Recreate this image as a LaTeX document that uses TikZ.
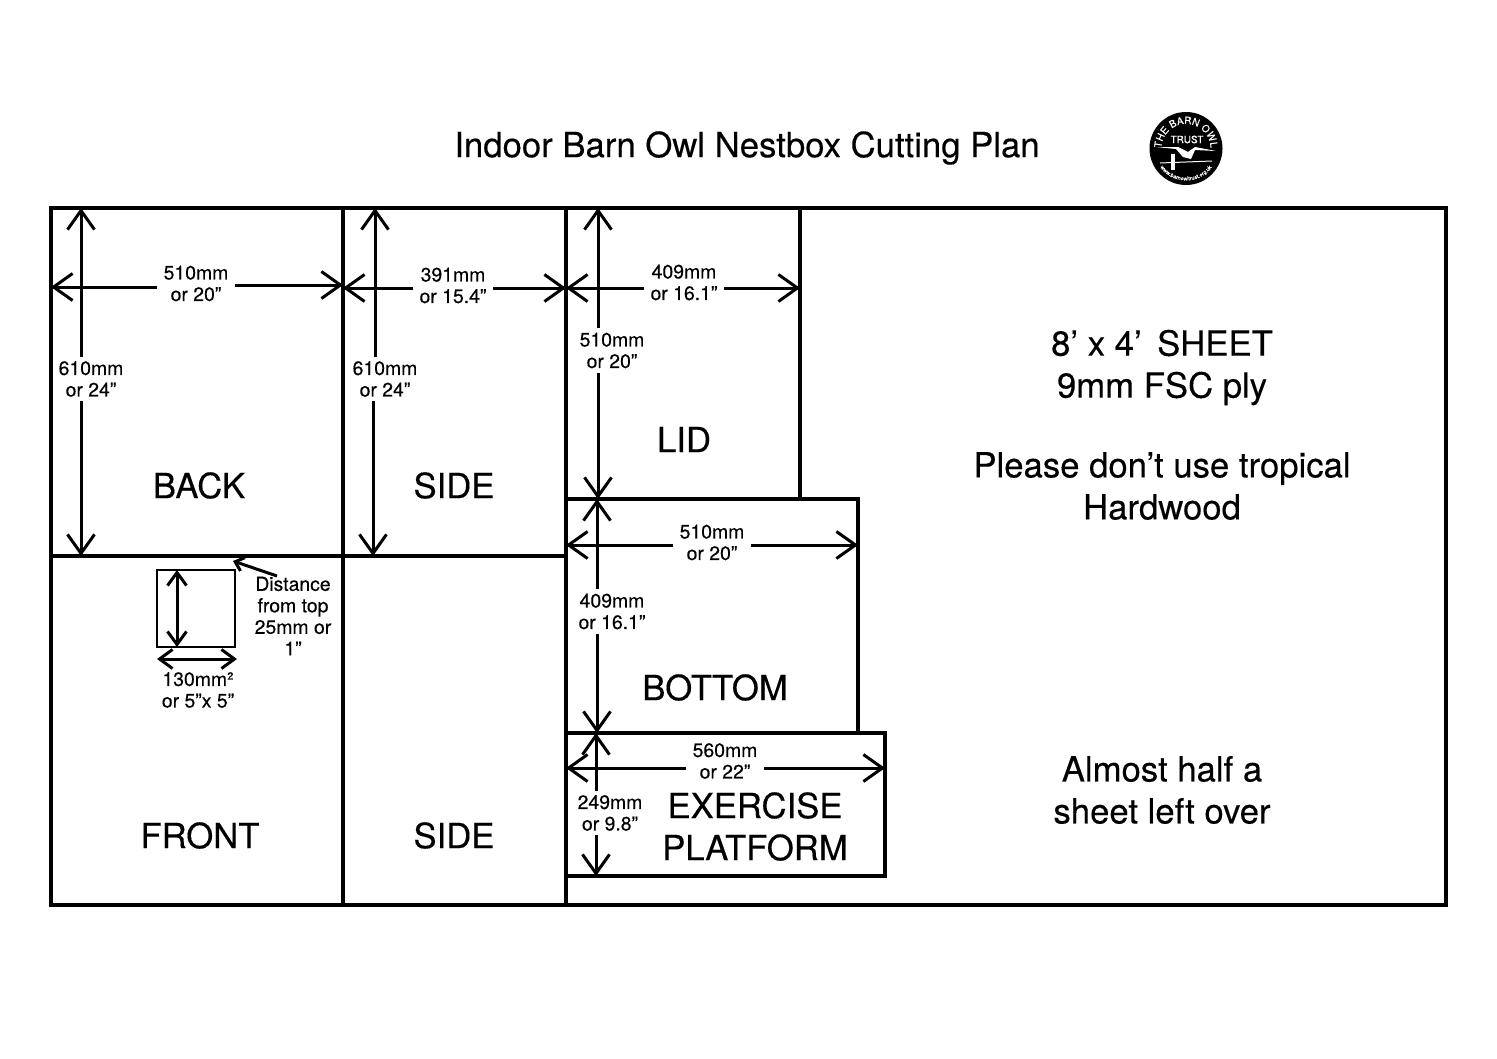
\documentclass[tikz,border=0pt]{standalone}
\usepackage{fontspec}
\setmainfont{TeX Gyre Heros}[FakeBold=0.3]
\usetikzlibrary{arrows.meta, positioning, decorations.text}
\tikzstyle{plan}=[x=1pt, y=-1pt, >={Straight Barb[length=19pt,width=27pt]}, line width=3pt]
\tikzstyle{panel}=[draw, line width=3.8pt, inner sep=0pt, outer sep=0pt]
\tikzstyle{dim}=[align=center, font=\fontsize{19.4}{21.5}\selectfont, inner xsep=5pt, inner ysep=3pt]
\tikzstyle{big}=[align=center, font=\fontsize{34.7}{42}\selectfont, inner sep=0pt]
\tikzstyle{smalltip}=[>={Straight Barb[length=13pt,width=19pt]}]

\begin{document}
\begin{tikzpicture}[plan]
  \useasboundingbox (0,0) rectangle (1497,1058);
  \node[big] (title) at (747,148) {Indoor Barn Owl Nestbox Cutting Plan};

  % the sheet and what is cut from it
  \node[panel,anchor=north west,minimum width=1395pt,minimum height=697pt] (sheet) at (51,208) {};
  \node[panel,anchor=north west,minimum width=292pt,minimum height=348pt] (back) at (51,208) {};
  \node[panel,minimum width=223pt,minimum height=348pt] (side) [right=0pt of back] {};
  \node[panel,minimum width=292pt,minimum height=349pt] (front) [below=0pt of back] {};
  \node[panel,minimum width=223pt,minimum height=349pt] (sidetwo) [below=0pt of side] {};
  \node[panel,minimum width=234pt,minimum height=291pt] (lid) [below right=0pt and 0pt of side.north east] {};
  \node[panel,minimum width=292pt,minimum height=234pt] (bottom) [below right=0pt and 0pt of lid.south west] {};
  \node[panel,minimum width=319pt,minimum height=143pt] (platform) [below right=0pt and 0pt of bottom.south west] {};
  \node[panel,line width=2.8pt,anchor=north west,minimum width=78pt,minimum height=77pt] (hole) at (157,570) {};

  \node[big] (backname) at (199,485.5) {BACK};
  \node[big] (sidename) at (454,485.5) {SIDE};
  \node[big] (frontname) at (200,835.5) {FRONT};
  \node[big] (sidetwoname) at (454,835.5) {SIDE};
  \node[big] (lidname) at (684,439.5) {LID};
  \node[big] (bottomname) at (715,687.5) {BOTTOM};
  \node[big] (platformname) at (755,826.5) {EXERCISE\\PLATFORM};
  \node[big] (sheetname) at (1162,367.5) {8' x 4'\, SHEET\\9mm FSC ply};
  \node[big] (tropical) at (1162,486) {Please don't use tropical\\Hardwood};
  \node[big] (leftover) at (1162,790) {Almost half a\\sheet left over};

  % sizes
  \node[dim] (backw) at (196,283.5) {510mm\\or 20"};
  \node[dim] (backh) at (91,379) {610mm\\or 24"};
  \node[dim] (sidew) at (453,285.5) {391mm\\or 15.4"};
  \node[dim] (sideh) at (385,379) {610mm\\or 24"};
  \node[dim] (lidw) at (684,282.5) {409mm\\or 16.1"};
  \node[dim] (lidh) at (612,350.5) {510mm\\or 20"};
  \node[dim] (bottomw) at (712,542.5) {510mm\\or 20"};
  \node[dim] (bottomh) at (612,611.5) {409mm\\or 16.1"};
  \node[dim] (platformw) at (725,761) {560mm\\or 22"};
  \node[dim] (platformh) at (610,813) {249mm\\or 9.8"};
  \node[dim] (holew) at (198,690) {130mm²\\or 5"x 5"};
  \node[dim,inner xsep=0pt] (holenote) at (293,616) {Distance\\from top\\25mm or\\1"};

  \coordinate (backl) at (51,287);
  \coordinate (backr) at (343,285);
  \coordinate (sider) at (566,288);
  \coordinate (sidel) at (343,288);
  \coordinate (lidl) at (566,288);
  \coordinate (lidr) at (800,288);
  \coordinate (bottoml) at (566,545);
  \coordinate (bottomr) at (858,545);
  \coordinate (platforml) at (566,768);
  \coordinate (platformr) at (885,768);
  \coordinate (backt) at (81,208);
  \coordinate (backb) at (81,556);
  \coordinate (sidet) at (375,208);
  \coordinate (sideb) at (373,556);
  \coordinate (lidt) at (598,208);
  \coordinate (lidb) at (598,499);
  \coordinate (bottomt) at (597,499);
  \coordinate (bottomb) at (597,733);
  \coordinate (platformt) at (596,733);
  \coordinate (platformb) at (596,876);
  \coordinate (holet) at (177,570);
  \coordinate (holeb) at (177,647);
  \coordinate (holel) at (157,659);
  \coordinate (holer) at (237,659);

  \draw[<-] (backl) -- (backl -| backw.west);
  \draw[<-] (backr) -- (backr -| backw.east);
  \draw[<-] (sidel) -- (sidel -| sidew.west);
  \draw[<-] (sider) -- (sider -| sidew.east);
  \draw[<-] (lidl) -- (lidl -| lidw.west);
  \draw[<-] (lidr) -- (lidr -| lidw.east);
  \draw[<-] (bottoml) -- (bottoml -| bottomw.west);
  \draw[<-] (bottomr) -- (bottomr -| bottomw.east);
  \draw[<-] (platforml) -- (platforml -| platformw.west);
  \draw[<-] (platformr) -- (platformr -| platformw.east);
  \draw[<-] (backt) -- (backt |- backh.north);
  \draw[<-] (backb) -- (backb |- backh.south);
  \draw[<-] (sidet) -- (sidet |- sideh.north);
  \draw[<-] (sideb) -- (sideb |- sideh.south);
  \draw[<-] (lidt) -- (lidt |- lidh.north);
  \draw[<-] (lidb) -- (lidb |- lidh.south);
  \draw[<-] (bottomt) -- (bottomt |- bottomh.north);
  \draw[<-] (bottomb) -- (bottomb |- bottomh.south);
  \draw[<-] (platformt) -- (platformt |- platformh.north);
  \draw[<-] (platformb) -- (platformb |- platformh.south);
  \draw[<->,smalltip] (holet) -- (holeb);
  \draw[<->,smalltip] (holel) -- (holer);
  \coordinate (notefrom) at (277,576);
  \coordinate (noteto) at (233,561);
  \draw[<-,>={Straight Barb[length=8pt,width=14pt]}] (noteto) -- (notefrom);

  % logo
  \node[circle,fill=black,minimum size=73pt,inner sep=0pt] (logo) at (1186,148.5) {};
  \node[text=white,inner sep=0pt,font=\fontsize{10}{10}\selectfont] (logotrust) at (1187,139.5) {TRUST};
  \path[decorate,decoration={text along path,text align=center,
    text={|\fontsize{10}{10}\selectfont\color{white}|THE BARN OWL}}]
    ([shift={(195:24.5pt)}]logo.center) arc[start angle=195,end angle=-15,radius=24.5pt];
  \path[decorate,decoration={text along path,text align=center,
    text={|\fontsize{5.5}{5.5}\selectfont\color{white}|www.barnowltrust.org.uk}}]
    ([shift={(195:32pt)}]logo.center) arc[start angle=195,end angle=345,radius=32pt];
  \fill[white] (1156,147) -- (1178,147) -- (1188,152) -- (1195,147) -- (1216,151) -- (1195,150) -- (1191,159) -- (1183,157) -- (1176,149) -- cycle;
  \fill[white] (1171,154) rectangle (1175,170);
  \draw[white,line width=1pt] (1160,163) -- (1212,161);
\end{tikzpicture}
\end{document}
